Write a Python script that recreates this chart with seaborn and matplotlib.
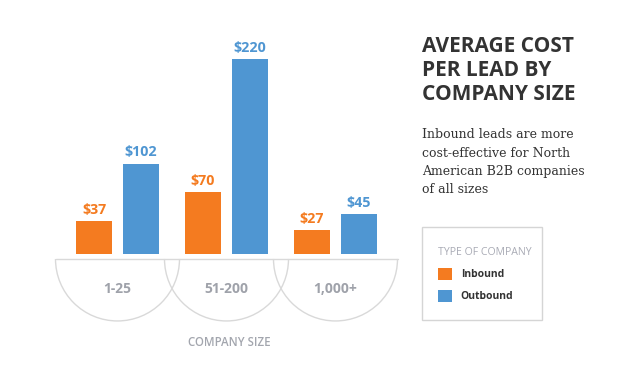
import matplotlib
matplotlib.use("Agg")
import matplotlib.pyplot as plt
from matplotlib.patches import Arc, Rectangle
import seaborn as sns
import pandas as pd

# ---- data ----
sizes = ["1-25", "51-200", "1,000+"]
inbound = [37, 70, 27]
outbound = [102, 220, 45]
series = ["Inbound", "Outbound"]
colors = ["#F47B20", "#4F96D2"]

df = pd.DataFrame({
    "size": sizes * 2,
    "type": [series[0]] * 3 + [series[1]] * 3,
    "cost": inbound + outbound,
})

W, H = 630, 371
sns.set_theme(style="white")
plt.rcParams["font.family"] = ["Open Sans", "DejaVu Sans"]
fig = plt.figure(figsize=(W / 100, H / 100), dpi=100)

# axes placement in pixels
x0_px, pitch = 117.5, 109.0
base_px, ppd = 254.0, 0.886  # baseline pixel (from top), pixels per dollar
xlim = (-0.6, 2.65)
ylim = (-80, 235)
left = (x0_px + xlim[0] * pitch) / W
right = (x0_px + xlim[1] * pitch) / W
top_px = base_px - ylim[1] * ppd
bot_px = base_px - ylim[0] * ppd
ax = fig.add_axes([left, 1 - bot_px / H, right - left, (bot_px - top_px) / H])

sns.barplot(data=df, x="size", y="cost", hue="type", palette=colors,
            width=0.862, gap=0.235, ax=ax, saturation=1, legend=True,
            linewidth=0, edgecolor="none")
handles, labels = ax.get_legend_handles_labels()
ax.get_legend().remove()
ax.set_xlim(*xlim)
ax.set_ylim(*ylim)
ax.axis("off")

for cont, col in zip(ax.containers, colors):
    ax.bar_label(cont, labels=[f"${int(v)}" for v in cont.datavalues],
                 padding=3, color=col, fontsize=10.3, fontweight="bold")

# baseline line and semicircles
line_y = -5.6
r_px = 62.0
rx = r_px / pitch
ry = r_px / ppd
ax.plot([-rx, 2 + rx], [line_y, line_y], color="#d9d9d9", lw=1, clip_on=False)
for i, s in enumerate(sizes):
    ax.add_patch(Arc((i, line_y), 2 * rx, 2 * ry, theta1=180, theta2=360,
                     color="#d9d9d9", lw=1, clip_on=False))
    ax.text(i, -39.5, s, ha="center", va="center", fontsize=10,
            fontweight="bold", color="#9fa2aa")

fig.text(229.5 / W, 1 - 343 / H, "COMPANY SIZE", ha="center", va="center",
         fontsize=8.3, color="#a3a6ae", fontweight="semibold")

# title
for t, yb in zip(["AVERAGE COST", "PER LEAD BY", "COMPANY SIZE"], [51.7, 75.5, 100]):
    fig.text(422 / W, 1 - yb / H, t, ha="left", va="baseline", fontsize=15,
             fontweight="bold", color="#333333")

# subtitle
sub = ["Inbound leads are more", "cost-effective for North",
       "American B2B companies", "of all sizes"]
for i, t in enumerate(sub):
    fig.text(422 / W, 1 - (138.3 + 18.3 * i) / H, t, ha="left", va="baseline",
             fontsize=9, color="#333333", family=["DejaVu Serif"])

# legend box
fig.patches.append(Rectangle((421.7 / W, 1 - 320 / H), (542 - 421.7) / W,
                             (320 - 227) / H, transform=fig.transFigure,
                             fill=False, edgecolor="#d5d5d5", lw=1))
leg = fig.legend(handles, labels, title="TYPE OF COMPANY", frameon=False,
                 loc="upper left", bbox_to_anchor=(432.5 / W, 1 - 241.5 / H),
                 borderpad=0, handlelength=1.4, handleheight=1.4,
                 handletextpad=0.8, labelspacing=0.95, alignment="left",
                 prop={"size": 7.5, "weight": "bold"},
                 title_fontproperties={"size": 7.6})
leg.get_title().set_color("#a9abb5")
for t in leg.get_texts():
    t.set_color("#333333")

fig.savefig("out.png", dpi=100)
